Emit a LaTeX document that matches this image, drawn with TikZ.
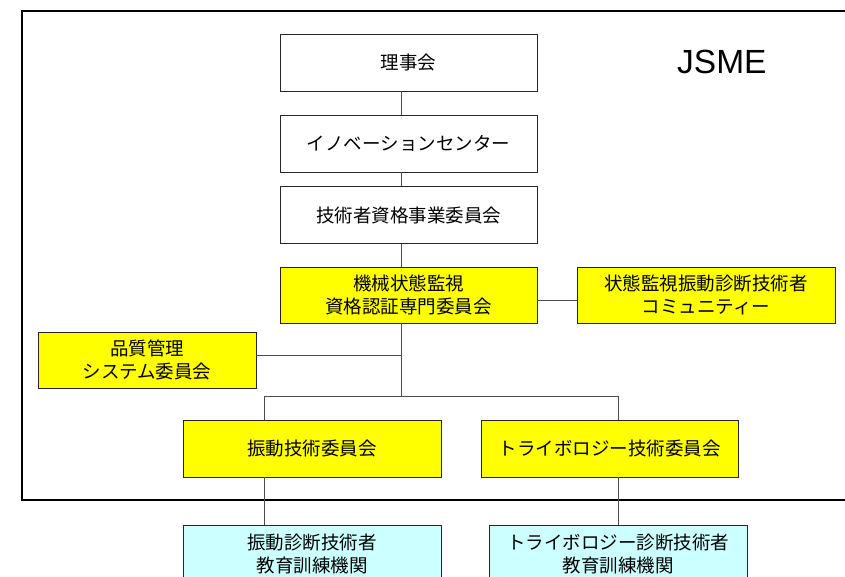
\documentclass[tikz,border=0pt]{standalone}
\usepackage{fontspec}
\setmainfont{Liberation Sans}
\newfontfamily\jp{Noto Sans CJK JP}
\definecolor{boxyellow}{HTML}{FFFF00}
\definecolor{boxcyan}{HTML}{CCFFFF}
\begin{document}
\begin{tikzpicture}[x=1pt,y=-1pt,
  box/.style={draw=black!85, line width=0.9pt, minimum height=57pt, align=center,
    inner sep=0pt, font=\jp\fontsize{18.5}{23}\selectfont},
  wbox/.style={box, fill=white},
  ybox/.style={box, fill=boxyellow},
  cbox/.style={box, fill=boxcyan},
  wire/.style={draw=black!70, line width=0.9pt},
  frame/.style={draw=black, line width=2.6pt}]
\useasboundingbox (0,0) rectangle (845,576);
\draw[frame] (22,11) rectangle (860,500);
\node[anchor=base west, inner sep=0pt, font=\fontsize{33.5}{40}\selectfont] (jsme) at (677,73) {JSME};

\node[wbox, minimum width=257pt] (r1) at (408.5,62.5) {理事会};
\node[wbox, minimum width=257pt] (r2) at (408.5,143.5) {イノベーションセンター};
\node[wbox, minimum width=257pt] (r3) at (408.5,215) {技術者資格事業委員会};
\node[ybox, minimum width=257pt, minimum height=56pt] (r4) at (408.5,295) {機械状態監視\\資格認証専門委員会};
\node[ybox, minimum width=258pt, minimum height=56pt] (r5) at (706,295) {状態監視振動診断技術者\\コミュニティー};
\node[ybox, minimum width=218pt, minimum height=56pt] (r6) at (147,360) {品質管理\\システム委員会};
\node[ybox, minimum width=258pt] (r7) at (312,448.5) {振動技術委員会};
\node[ybox, minimum width=257pt] (r8) at (609.5,448.5) {トライボロジー技術委員会};
\node[cbox, minimum width=258pt] (r9) at (312,553.5) {振動診断技術者\\教育訓練機関};
\node[cbox, minimum width=258pt] (r10) at (618,553.5) {トライボロジー診断技術者\\教育訓練機関};

\coordinate (cx) at (401,0);
\coordinate (cy) at (0,300);
\coordinate (q) at (401,355);
\coordinate (bl) at (264,396);
\coordinate (br) at (618,396);

\draw[wire] (r1.south -| cx) -- (r2.north -| cx);
\draw[wire] (r2.south -| cx) -- (r3.north -| cx);
\draw[wire] (r3.south -| cx) -- (r4.north -| cx);
\draw[wire] (r4.east |- cy) -- (r5.west |- cy);
\draw[wire] (r4.south -| cx) -- (cx |- bl);
\draw[wire] (r6.east |- q) -- (q);
\draw[wire] (r7.north -| bl) -- (bl) -- (br) -- (r8.north -| br);
\draw[wire] (r7.south -| bl) -- (r9.north -| bl);
\draw[wire] (r8.south -| br) -- (r10.north -| br);
\end{tikzpicture}
\end{document}
